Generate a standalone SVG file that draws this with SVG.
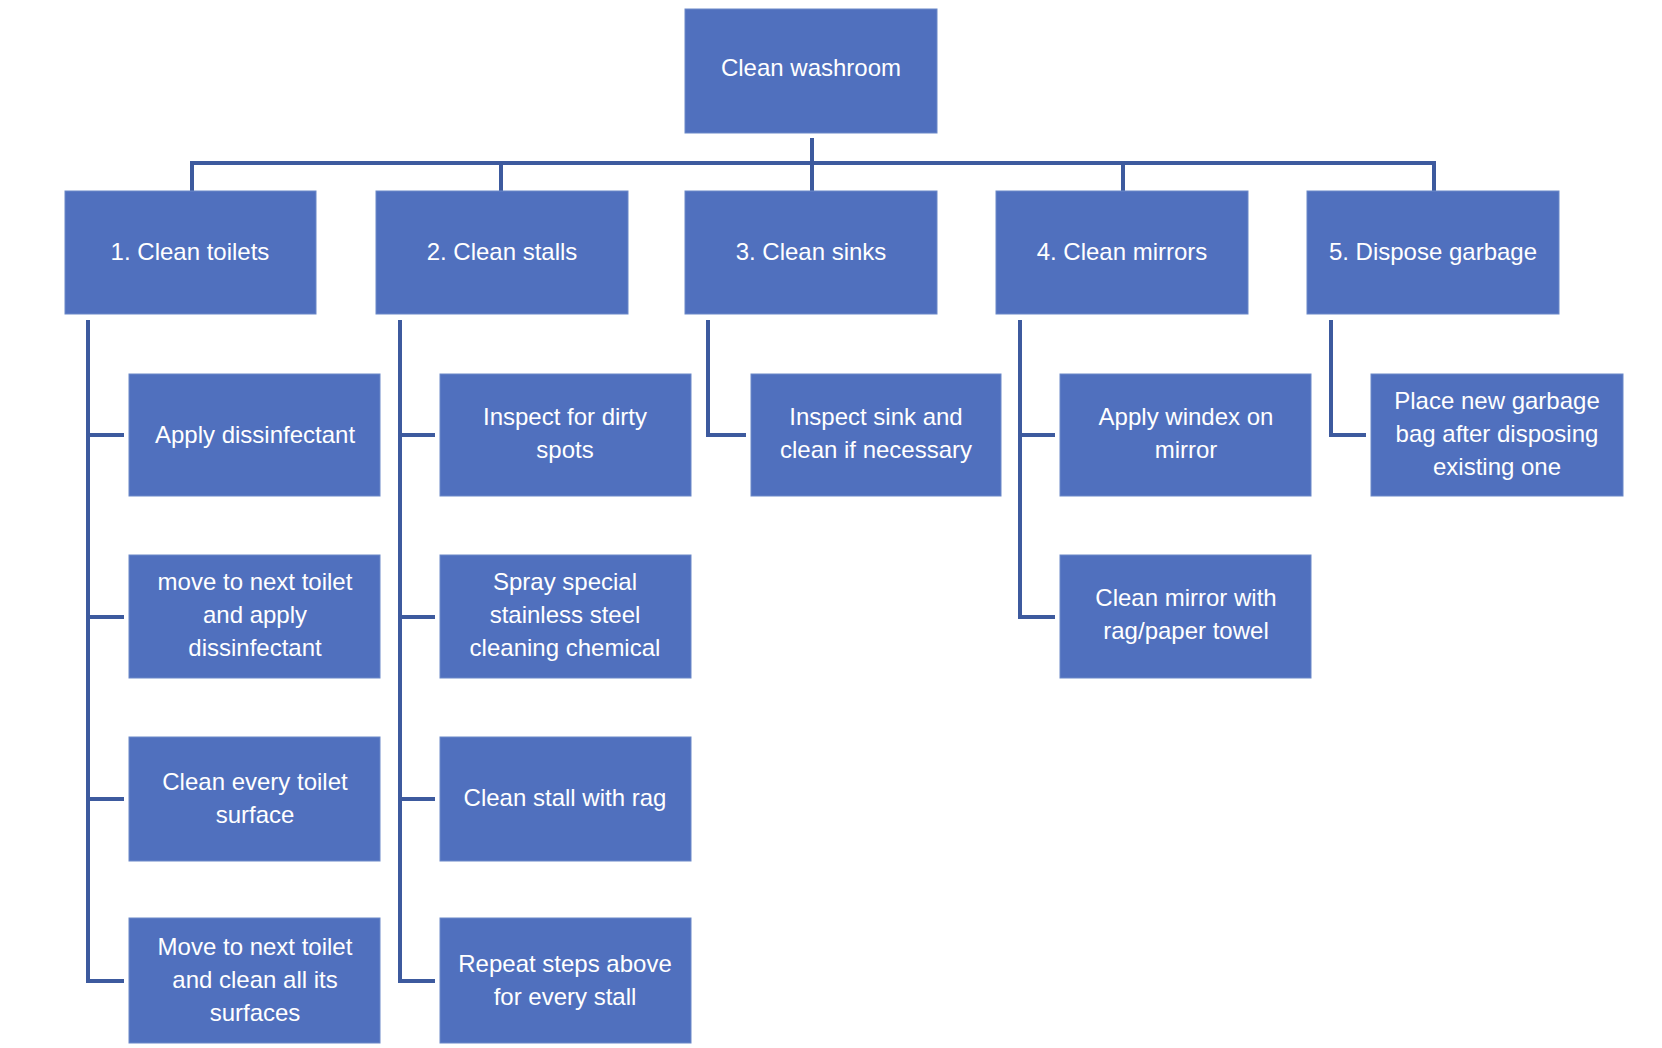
<svg xmlns="http://www.w3.org/2000/svg" width="1662" height="1048" viewBox="0 0 1662 1048">
<style>
.b{fill:#5070be;stroke:#6a88c8;stroke-width:1}
.t{font-family:"Liberation Sans",Arial,sans-serif;font-size:24px;fill:#fff;text-anchor:middle}
.c{fill:none;stroke:#3d5a9e;stroke-width:4}
</style>
<rect width="1662" height="1048" fill="#fff"/>
<g id="connectors" class="c">
<path d="M812 138V163M192 191V163H1434V191M501 163V191M812 163V191M1123 163V191"/>
<path d="M88 320V981H124M88 435H124M88 617H124M88 799H124"/>
<path d="M400 320V981H435M400 435H435M400 617H435M400 799H435"/>
<path d="M708 320V435H746"/>
<path d="M1020 320V617H1055M1020 435H1055"/>
<path d="M1331 320V435H1366"/>
</g>
<g id="root"><rect class="b" x="685" y="9" width="252" height="124"/><text class="t" x="811" y="76">Clean washroom</text></g>
<g id="n1"><rect class="b" x="65" y="191" width="251" height="123"/><text class="t" x="190" y="260">1. Clean toilets</text></g>
<g id="n2"><rect class="b" x="376" y="191" width="252" height="123"/><text class="t" x="502" y="260">2. Clean stalls</text></g>
<g id="n3"><rect class="b" x="685" y="191" width="252" height="123"/><text class="t" x="811" y="260">3. Clean sinks</text></g>
<g id="n4"><rect class="b" x="996" y="191" width="252" height="123"/><text class="t" x="1122" y="260">4. Clean mirrors</text></g>
<g id="n5"><rect class="b" x="1307" y="191" width="252" height="123"/><text class="t" x="1433" y="260">5. Dispose garbage</text></g>

<g id="n1a"><rect class="b" x="129" y="374" width="251" height="122"/><text class="t" x="255" y="443">Apply dissinfectant</text></g>
<g id="n1b"><rect class="b" x="129" y="555" width="251" height="123"/><text class="t" x="255" y="590">move to next toilet</text><text class="t" x="255" y="623">and apply</text><text class="t" x="255" y="656">dissinfectant</text></g>
<g id="n1c"><rect class="b" x="129" y="737" width="251" height="124"/><text class="t" x="255" y="790">Clean every toilet</text><text class="t" x="255" y="823">surface</text></g>
<g id="n1d"><rect class="b" x="129" y="918" width="251" height="125"/><text class="t" x="255" y="955">Move to next toilet</text><text class="t" x="255" y="988">and clean all its</text><text class="t" x="255" y="1021">surfaces</text></g>

<g id="n2a"><rect class="b" x="440" y="374" width="251" height="122"/><text class="t" x="565" y="425">Inspect for dirty</text><text class="t" x="565" y="458">spots</text></g>
<g id="n2b"><rect class="b" x="440" y="555" width="251" height="123"/><text class="t" x="565" y="590">Spray special</text><text class="t" x="565" y="623">stainless steel</text><text class="t" x="565" y="656">cleaning chemical</text></g>
<g id="n2c"><rect class="b" x="440" y="737" width="251" height="124"/><text class="t" x="565" y="806">Clean stall with rag</text></g>
<g id="n2d"><rect class="b" x="440" y="918" width="251" height="125"/><text class="t" x="565" y="972">Repeat steps above</text><text class="t" x="565" y="1005">for every stall</text></g>

<g id="n3a"><rect class="b" x="751" y="374" width="250" height="122"/><text class="t" x="876" y="425">Inspect sink and</text><text class="t" x="876" y="458">clean if necessary</text></g>

<g id="n4a"><rect class="b" x="1060" y="374" width="251" height="122"/><text class="t" x="1186" y="425">Apply windex on</text><text class="t" x="1186" y="458">mirror</text></g>
<g id="n4b"><rect class="b" x="1060" y="555" width="251" height="123"/><text class="t" x="1186" y="606">Clean mirror with</text><text class="t" x="1186" y="639">rag/paper towel</text></g>

<g id="n5a"><rect class="b" x="1371" y="374" width="252" height="122"/><text class="t" x="1497" y="409">Place new garbage</text><text class="t" x="1497" y="442">bag after disposing</text><text class="t" x="1497" y="475">existing one</text></g>
</svg>
